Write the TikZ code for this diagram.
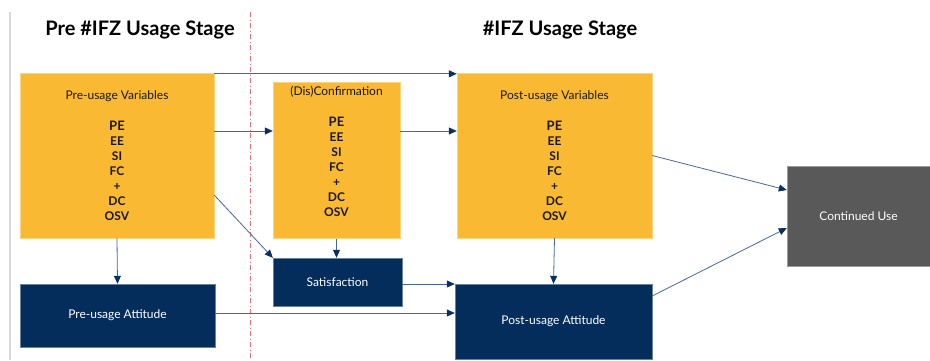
\documentclass[tikz,border=0pt]{standalone}
\usepackage{fontspec}
\setmainfont{Lato}
\usetikzlibrary{arrows.meta}

\definecolor{varorange}{HTML}{F9B932}
\definecolor{attnavy}{HTML}{042D5C}
\definecolor{usegray}{HTML}{595959}
\definecolor{linkblue}{HTML}{47679A}
\definecolor{headnavy}{HTML}{0C2F62}
\definecolor{stagered}{HTML}{E0707C}

\newcommand{\varlist}{\textbf{PE}\\\textbf{EE}\\\textbf{SI}\\\textbf{FC}\\\textbf{+}\\\textbf{DC}\\\textbf{OSV}}

\begin{document}
\begin{tikzpicture}[x=1pt,y=-1pt,
	varbox/.style={fill=varorange, draw=varorange!60!white, line width=0.4pt, align=center,
		text=black!90, font=\fontsize{12}{15}\selectfont},
	attbox/.style={fill=attnavy, draw=attnavy!60!white, line width=0.4pt, text=white,
		font=\fontsize{12}{14}\selectfont},
	link/.style={draw=linkblue, line width=0.8pt, -{Triangle[length=8pt,width=7pt,color=headnavy]}},
	stage/.style={font=\fontsize{20}{24}\selectfont\bfseries}]
\useasboundingbox (0,0) rectangle (930,360);

	\draw[black!15, line width=1.5pt] (10,12) -- (10,360);
	\draw[stagered, line width=0.8pt, dash pattern=on 5pt off 2.5pt on 1pt off 2.5pt] (250,12) -- (250,360);

	\node[stage] (prestage) at (140,30) {Pre \#IFZ Usage Stage};
	\node[stage] (ifzstage) at (560,30) {\#IFZ Usage Stage};

\newcommand{\biglist}{\fontsize{13}{15}\selectfont\varlist}
\node[varbox, minimum width=194pt, minimum height=165pt] (prevar) at (117,155.5)
	{Pre-usage Variables\\[16pt]\biglist};
\node[varbox, minimum width=127pt, minimum height=155pt, text depth=19pt] (dis) at (336.5,160.5)
	{(Dis)Confirmation\\[16pt]\biglist};
\node[varbox, minimum width=195pt, minimum height=165pt] (postvar) at (554.5,155.5)
	{Post-usage Variables\\[16pt]\biglist};
\node[attbox, fill=usegray, draw=usegray!60!white, minimum width=143pt, minimum height=100pt] (cont) at (858.5,216) {Continued Use};

\node[attbox, minimum width=129pt, minimum height=48pt] (sat) at (337.5,282) {Satisfaction};
\node[attbox, minimum width=195pt, minimum height=63pt] (preatt) at (117.5,315.5) {Pre-usage Attitude};
\node[attbox, minimum width=197pt, minimum height=75pt] (postatt) at (553.5,321.5) {Post-usage Attitude};

	\coordinate (row1) at (0,131);

\draw[link] ([yshift=-1pt]prevar.north east) -- ([yshift=-1pt]postvar.north west);
\draw[link] (prevar.east |- row1) -- (dis.west |- row1);
\draw[link] (dis.east |- row1) -- (postvar.west |- row1);
\draw[link] ([yshift=-39.5pt]prevar.east) -- (sat.north west);
\draw[link] (dis.south) -- (dis.south |- sat.north);
\draw[link] (prevar.south) -- (preatt.north);
\draw[link] ([yshift=-2pt]sat.east) -- ([yshift=-2pt]sat.east -| postatt.west);
\draw[link] ([yshift=2.5pt]preatt.east) -- ([yshift=2.5pt]preatt.east -| postatt.west);
\draw[link] (postvar.south) -- (postatt.north);
\draw[link] (postvar.east) -- ([yshift=26pt]cont.west);
\draw[link] ([yshift=25.5pt]postatt.east) -- ([yshift=-12pt]cont.west);

\end{tikzpicture}
\end{document}
